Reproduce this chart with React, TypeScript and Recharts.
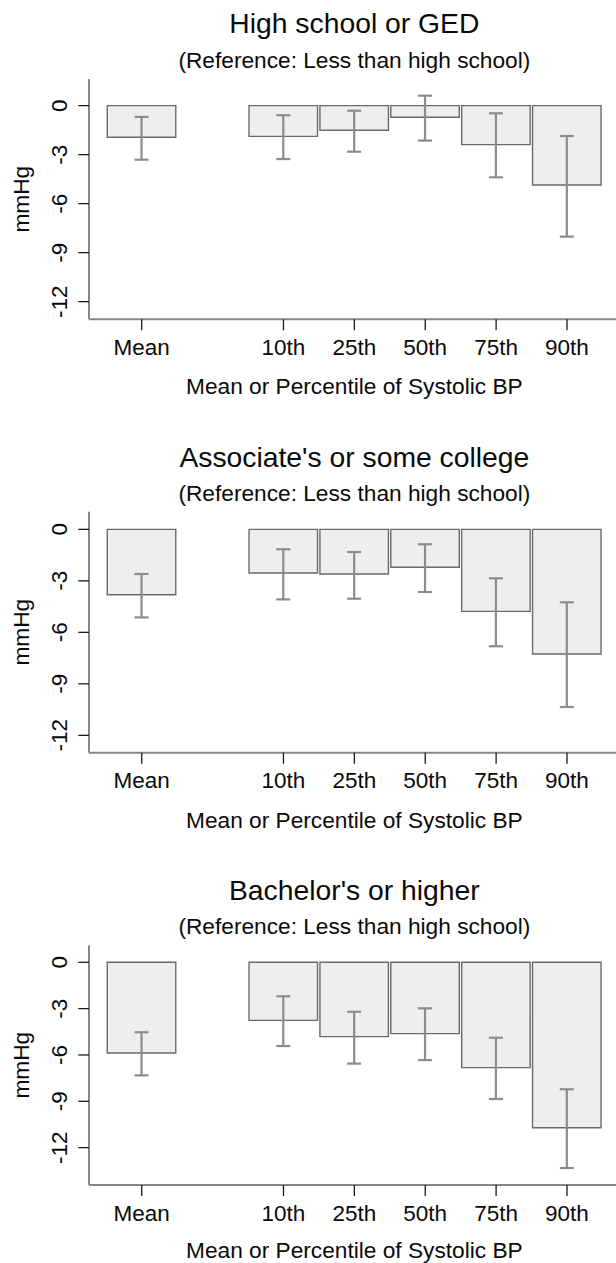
import React from 'react';
import { BarChart, Bar, XAxis, YAxis, ErrorBar } from 'recharts';

// ---------- data ----------
const categories = ['Mean', ' ', '10th', '25th', '50th', '75th', '90th'];
const yTicks = [0, -3, -6, -9, -12];

const titles = ['High school or GED', "Associate's or some college", "Bachelor's or higher"];
const subtitle = '(Reference: Less than high school)';
const xTitle = 'Mean or Percentile of Systolic BP';
const yTitle = 'mmHg';

const hsEstimate = [-1.94, null, -1.88, -1.51, -0.71, -2.39, -4.86];
const hsLower = [-3.31, null, -3.27, -2.82, -2.14, -4.39, -8.02];
const hsUpper = [-0.69, null, -0.59, -0.31, 0.61, -0.47, -1.86];

const assocEstimate = [-3.81, null, -2.54, -2.6, -2.21, -4.78, -7.26];
const assocLower = [-5.13, null, -4.08, -4.04, -3.65, -6.81, -10.35];
const assocUpper = [-2.6, null, -1.16, -1.32, -0.87, -2.85, -4.25];

const bachEstimate = [-5.87, null, -3.76, -4.81, -4.62, -6.82, -10.71];
const bachLower = [-7.32, null, -5.42, -6.56, -6.33, -8.85, -13.32];
const bachUpper = [-4.53, null, -2.2, -3.2, -2.98, -4.88, -8.22];

const hsDomain = [-13.08, 1.63];
const assocDomain = [-13.01, 1.03];
const bachDomain = [-14.42, 1.1];

// ---------- helpers ----------
const FONT = '"Liberation Sans", Arial, Helvetica, sans-serif';
const BOX = '#878787';

function buildData(est: (number | null)[], lo: (number | null)[], hi: (number | null)[]) {
  return categories.map((name, i) => {
    const v = est[i];
    const l = lo[i];
    const h = hi[i];
    return {
      name,
      value: v,
      err: v == null || l == null || h == null ? undefined : [v - l, h - v],
    };
  });
}

const XTick = (props: any) => {
  const { x, y, payload } = props;
  if (!payload || String(payload.value).trim() === '') return <g />;
  return (
    <g>
      <line x1={x} y1={y} x2={x} y2={y + 11} stroke="#1a1a1a" strokeWidth={1.3} />
      <text x={x} y={y + 35.5} textAnchor="middle" fontSize={22.5} fill="#0a0a0a" fontFamily={FONT}>
        {payload.value}
      </text>
    </g>
  );
};

const YTick = (props: any) => {
  const { x, y, payload } = props;
  const tx = x - 22.3;
  return (
    <g>
      <line x1={x - 10.7} y1={y} x2={x} y2={y} stroke="#1a1a1a" strokeWidth={1.3} />
      <text
        x={tx}
        y={y}
        transform={`rotate(-90 ${tx} ${y})`}
        textAnchor="middle"
        fontSize={22.5}
        fill="#0a0a0a"
        fontFamily={FONT}
      >
        {payload.value}
      </text>
    </g>
  );
};

type PanelProps = {
  data: any[];
  domain: number[];
  top: number;
  height: number;
  marginTop: number;
  marginBottom: number;
};

const CHART_W = 630;
const PLOT_LEFT = 89;
const PLOT_RIGHT = 619.7;
const PAD = 17.27;

function Panel({ data, domain, top, height, marginTop, marginBottom }: PanelProps) {
  return (
    <div style={{ position: 'absolute', left: 0, top, width: CHART_W, height }}>
      <BarChart
        width={CHART_W}
        height={height}
        data={data}
        margin={{ top: marginTop, bottom: marginBottom, left: 0, right: CHART_W - PLOT_RIGHT }}
        barSize={68.5}
      >
        <XAxis
          dataKey="name"
          type="category"
          interval={0}
          height={60}
          tickSize={0}
          tickMargin={0}
          tickLine={false}
          tick={<XTick />}
          padding={{ left: PAD, right: PAD }}
          axisLine={{ stroke: BOX, strokeWidth: 2 }}
        />
        <XAxis
          xAxisId="top"
          orientation="top"
          dataKey="name"
          type="category"
          height={0}
          tick={false}
          tickLine={false}
          padding={{ left: PAD, right: PAD }}
          axisLine={{ stroke: BOX, strokeWidth: 2 }}
        />
        <YAxis
          type="number"
          domain={domain}
          allowDataOverflow
          ticks={yTicks}
          interval={0}
          width={PLOT_LEFT}
          tickSize={0}
          tickMargin={0}
          tickLine={false}
          tick={<YTick />}
          axisLine={{ stroke: BOX, strokeWidth: 2 }}
        />
        <Bar
          dataKey="value"
          fill="#eeeeee"
          stroke="#6a6a6a"
          strokeWidth={1.4}
          isAnimationActive={false}
        >
          <ErrorBar
            dataKey="err"
            direction="y"
            width={7}
            stroke="#8c8c8c"
            strokeWidth={2.2}
            isAnimationActive={false}
          />
        </Bar>
      </BarChart>
    </div>
  );
}

const panelLayout = [
  { top: 0, height: 420, marginTop: 79, marginBottom: 40.7 },
  { top: 420, height: 420, marginTop: 91.67, marginBottom: 27.33 },
  { top: 840, height: 423, marginTop: 105.33, marginBottom: 18 },
];

const textLayout = [
  { title: 33.3, sub: 68.3, xlab: 394.3, ymid: 199.2 },
  { title: 466.7, sub: 501, xlab: 827.7, ymid: 632.2 },
  { title: 900, sub: 934.3, xlab: 1257.5, ymid: 1065.2 },
];

export default function App() {
  const datasets = [
    { data: buildData(hsEstimate, hsLower, hsUpper), domain: hsDomain },
    { data: buildData(assocEstimate, assocLower, assocUpper), domain: assocDomain },
    { data: buildData(bachEstimate, bachLower, bachUpper), domain: bachDomain },
  ];
  const cx = (PLOT_LEFT + PLOT_RIGHT) / 2;
  return (
    <div
      style={{
        position: 'absolute',
        left: 0,
        top: 0,
        width: 616,
        height: 1263,
        overflow: 'hidden',
        background: '#fff',
      }}
    >
      {datasets.map((d, i) => (
        <Panel key={i} data={d.data} domain={d.domain} {...panelLayout[i]} />
      ))}
      <svg
        width={616}
        height={1263}
        style={{ position: 'absolute', left: 0, top: 0, pointerEvents: 'none' }}
      >
        {textLayout.map((t, i) => (
          <g key={i} fontFamily={FONT} fill="#0a0a0a">
            <text x={cx} y={t.title} textAnchor="middle" fontSize={28.3}>
              {titles[i]}
            </text>
            <text x={cx} y={t.sub} textAnchor="middle" fontSize={22.7}>
              {subtitle}
            </text>
            <text x={cx} y={t.xlab} textAnchor="middle" fontSize={22.7}>
              {xTitle}
            </text>
            <text
              x={29}
              y={t.ymid}
              transform={`rotate(-90 29 ${t.ymid})`}
              textAnchor="middle"
              fontSize={22.7}
            >
              {yTitle}
            </text>
          </g>
        ))}
      </svg>
    </div>
  );
}
